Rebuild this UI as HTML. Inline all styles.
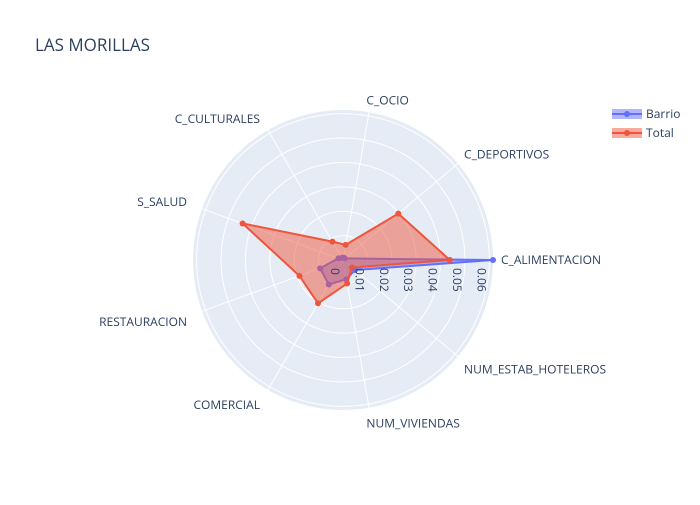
<!DOCTYPE html>
<html><head><meta charset="utf-8"><style>
body{margin:0;background:#fff}
svg{font-family:"Open Sans","Liberation Sans",sans-serif}
</style></head><body>
<svg id="chart" width="700" height="500">
<rect width="700" height="500" fill="#fff"/>
<text x="35" y="51" font-size="17" fill="#2a3f5f">LAS MORILLAS</text>
<g id="grid"></g><g id="series"></g><g id="labels"></g>
<g>
<g>
<rect x="612" y="109" width="30" height="10" fill="#636efa" opacity="0.5"/>
<line x1="612" y1="114" x2="642" y2="114" stroke="#636efa" stroke-width="2"/>
<circle cx="627" cy="114" r="3" fill="#636efa"/>
<text x="646" y="118" font-size="12" fill="#2a3f5f">Barrio</text></g>
<g>
<rect x="612" y="128" width="30" height="10" fill="#ef553b" opacity="0.5"/>
<line x1="612" y1="133" x2="642" y2="133" stroke="#ef553b" stroke-width="2"/>
<circle cx="627" cy="133" r="3" fill="#ef553b"/>
<text x="646" y="137" font-size="12" fill="#2a3f5f">Total</text></g>
</g>
</svg>
<script>
const categories=["C_ALIMENTACION","C_DEPORTIVOS","C_OCIO","C_CULTURALES","S_SALUD","RESTAURACION","COMERCIAL","NUM_VIVIENDAS","NUM_ESTAB_HOTELEROS"];
const barrioValues=[0.0615,0.001,0.001,0.001,0.002,0.010,0.0116,0.008,0.0064];
const totalValues=[0.0438,0.0296,0.0063,0.0087,0.0438,0.019,0.0205,0.0098,0.0048];
const radialTicks=[0,0.01,0.02,0.03,0.04,0.05,0.06];
const NS="http://www.w3.org/2000/svg";
const cx=343,cy=260,R=150;
const rMax=Math.max(...barrioValues,...totalValues);
function rScale(v){return v/rMax*R;}
function ang(i){return i*2*Math.PI/categories.length;}
function pt(i,v){const a=ang(i),r=rScale(v);return [cx+r*Math.cos(a),cy-r*Math.sin(a)];}
function mk(t,attrs,parent){const e=document.createElementNS(NS,t);for(const k in attrs)e.setAttribute(k,attrs[k]);parent.appendChild(e);return e;}
const grid=document.getElementById('grid');
const bg=mk('circle',{cx,cy,r:R,fill:'#e5ecf6'},grid);


radialTicks.forEach(t=>{if(t>0){const c=mk('circle',{cx,cy,r:rScale(t),fill:'none',stroke:'#fff','stroke-width':1},grid);

}});
categories.forEach((c,i)=>{const a=ang(i);const l=mk('line',{x1:cx,y1:cy,x2:cx+R*Math.cos(a),y2:cy-R*Math.sin(a),stroke:'#fff','stroke-width':1},grid);

});
const labels=document.getElementById('labels');
radialTicks.forEach(t=>{const x=cx+rScale(t)-12,y=cy+8;const tx=mk('text',{x:0,y:0,transform:`translate(${x},${y}) rotate(90)`,'font-size':12,fill:'#2a3f5f'},labels);tx.textContent=String(t);

});
categories.forEach((c,i)=>{const a=ang(i);const co=Math.cos(a),si=Math.sin(a);
const anchor=co>0.2?'start':co<-0.2?'end':'start';
const off=anchor==='end'?R+16:R+8;
const x=cx+off*co+(anchor==='start'&&Math.abs(co)<=0.2?-4:0),y=cy-(R+8)*si+4+(si>0.3?-4:si<-0.3?8:0);
const tx=mk('text',{x,y,'text-anchor':anchor,'font-size':12,fill:'#2a3f5f'},labels);tx.textContent=c;

});
const series=document.getElementById('series');
function draw(vals,color,name){const g=mk('g',{},series);


const pts=vals.map((v,i)=>pt(i,v));
const poly=mk('polygon',{points:pts.map(p=>p.join(',')).join(' '),fill:color,'fill-opacity':0.5,stroke:color,'stroke-width':2},g);


pts.forEach(p=>{const c=mk('circle',{cx:p[0],cy:p[1],r:3,fill:color},g);

});}
draw(barrioValues,'#636efa','series-barrio');
draw(totalValues,'#ef553b','series-total');
</script>
</body></html>
